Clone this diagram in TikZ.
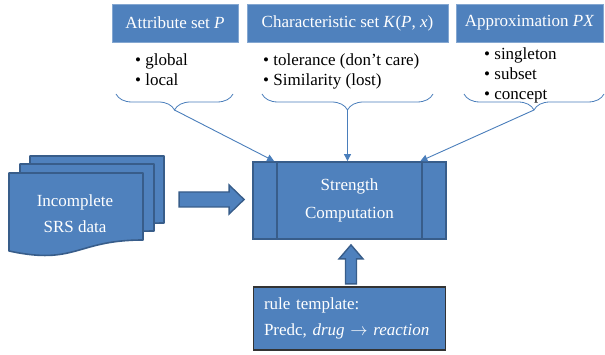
\documentclass[tikz,border=0pt]{standalone}
\usepackage{fontspec}
\IfFontExistsTF{LiberationSerif-Regular.ttf}{%
    \setmainfont{LiberationSerif}[Extension=.ttf, UprightFont=*-Regular, ItalicFont=*-Italic,
        BoldFont=*-Bold, BoldItalicFont=*-BoldItalic]}{%
    \setmainfont{Liberation Serif}}
\usetikzlibrary{positioning,arrows.meta,decorations.pathreplacing,calc}
\definecolor{officeblue}{RGB}{79,129,189}
\definecolor{officeedge}{RGB}{56,93,138}
\definecolor{linkblue}{RGB}{74,126,187}

\begin{document}
\begin{tikzpicture}[
    x=1pt, y=-1pt,
    >=Triangle,
    every node/.style={font=\rmfamily\fontsize{17}{20}\selectfont},
    header/.style={
        rectangle, fill=officeblue, draw=officeblue!70!white, line width=0.6pt,
        minimum height=38pt, inner sep=0pt, text=white
    },
    bullets/.style={anchor=west, align=left, inner sep=0pt},
    linkbrace/.style={decorate, decoration={brace, amplitude=16pt, mirror}, draw=linkblue, line width=0.8pt},
    link/.style={-{Triangle[length=7pt, width=7pt]}, draw=linkblue, line width=0.9pt},
    srsdoc/.style={fill=officeblue, draw=officeedge, line width=1.6pt, line join=round},
    blockarrow/.style={fill=officeblue, draw=officeedge, line width=1.4pt, line join=miter}
]

\useasboundingbox (0,0) rectangle (605,355);

% header boxes
\node[header, minimum width=126pt] (attr) at (175,23) {Attribute set \textit{P}};
\node[header, minimum width=201pt] (charset) at (347.5,23) {Characteristic set \textit{K}(\textit{P}, \textit{x})};
\node[header, minimum width=147pt] (approx) at (529.5,23) {Approximation \textit{PX}};

\node[bullets] (attrlist) at (135,70) {\textbullet\ global\\\textbullet\ local};
\node[bullets] (charlist) at (263,71) {\textbullet\ tolerance (don't care)\\\textbullet\ Similarity (lost)};
\node[bullets] (approxlist) at (484,75) {\textbullet\ singleton\\\textbullet\ subset\\\textbullet\ concept};

% braces under the lists
\coordinate (b1l) at (116,94);  \coordinate (b1r) at (233,94);
\coordinate (b2l) at (262,94);  \coordinate (b2r) at (433,94);
\coordinate (b3l) at (464,94);  \coordinate (b3r) at (604,94);
\draw[linkbrace] (b1l) -- (b1r);
\draw[linkbrace] (b2l) -- (b2r);
\draw[linkbrace] (b3l) -- (b3r);
\coordinate (t1) at ($(b1l)!0.5!(b1r)+(0,16)$);
\coordinate (t2) at ($(b2l)!0.5!(b2r)+(0,16)$);
\coordinate (t3) at ($(b3l)!0.5!(b3r)+(0,16)$);

% stacked documents
\foreach \dx/\dy in {21/-17, 11/-9, 0/0}
    \draw[srsdoc, shift={(\dx,\dy)}] (9,173) -- (143,173) -- (143,240)
        .. controls (76,240) and (76,265.5) .. (9,251) -- cycle;
\node[text=white, align=center, font=\rmfamily\fontsize{17}{26}\selectfont] (srs) at (75,214) {Incomplete\\SRS data};

\node[rectangle, fill=officeblue, draw=officeedge, line width=1.8pt, minimum width=193pt, minimum height=77pt,
    text=white, align=center, font=\rmfamily\fontsize{17}{28}\selectfont] (strength) at (349.5,200.5) {Strength\\Computation};
\draw[officeedge, line width=1.8pt] ([xshift=25pt]strength.north west) -- ([xshift=25pt]strength.south west);
\draw[officeedge, line width=1.8pt] ([xshift=-25pt]strength.north east) -- ([xshift=-25pt]strength.south east);

\node[rectangle, fill=officeblue, draw=black!80, line width=1.2pt, text width=171pt, inner xsep=10.5pt,
    minimum height=63pt, align=left, text=white, font=\rmfamily\fontsize{17}{26}\selectfont] (rule) at (349.5,318.5)
    {rule template:\\Predc, \textit{drug} $\rightarrow$ \textit{reaction}};

% block arrows
\coordinate (feedtip) at ([xshift=-8pt, yshift=1pt]strength.west);
\draw[blockarrow] (feedtip) -- ++(-15,-14.5) -- ++(0,7) -- ++(-50,0) -- ++(0,15) -- ++(50,0) -- ++(0,7) -- cycle;
\coordinate (risetip) at ([xshift=1.5pt, yshift=-5pt]strength.south);
\draw[blockarrow] (risetip) -- ++(12,14) -- ++(-6.5,0) -- ++(0,25) -- ++(-11,0) -- ++(0,-25) -- ++(-6.5,0) -- cycle;

\draw[link] (t1) -- ([xshift=22pt]strength.north west);
\draw[link] (t2) -- (strength.north -| t2);
\draw[link] (t3) -- ([xshift=-26.5pt]strength.north east);

\end{tikzpicture}
\end{document}
